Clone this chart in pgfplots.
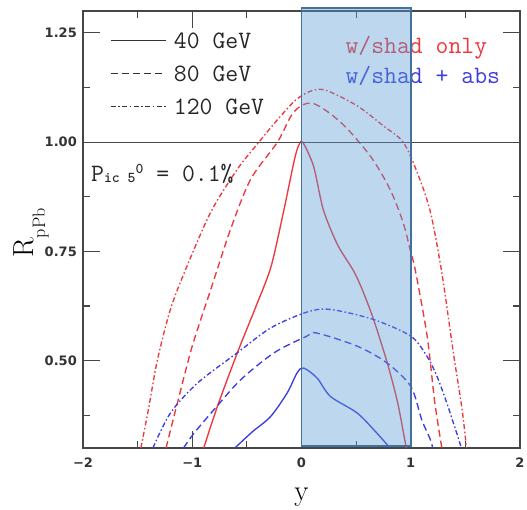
\documentclass[border=0pt]{standalone}
\usepackage{fontspec}
\usepackage{pgfplots}
\pgfplotsset{compat=1.18}
\newfontfamily\tickfont{DejaVu Sans}
\definecolor{rline}{RGB}{238,55,60}
\definecolor{bline}{RGB}{60,60,225}
\definecolor{boxfill}{RGB}{91,155,213}
\definecolor{boxedge}{RGB}{65,113,156}
\definecolor{axgray}{RGB}{70,70,70}
\tikzset{
  dsh/.style={dash pattern=on 7pt off 4pt},
  dshdot/.style={dash pattern=on 5pt off 2.5pt on 1.5pt off 2.5pt},
}
\begin{document}
\begin{tikzpicture}
\begin{axis}[
  scale only axis, width=437pt, height=437pt,
  xmin=-2, xmax=2, ymin=0.3, ymax=1.3,
  xtick={-2,-1,0,1,2}, xticklabels={−2,−1,0,1,2},
  ytick={0.5,0.75,1,1.25}, yticklabels={0.50,0.75,1.00,1.25},
  minor xtick={-1.5,-0.5,0.5,1.5},
  minor ytick={0.375,0.625,0.875,1.125},
  tick align=inside,
  major tick length=17pt, minor tick length=7pt,
  every tick/.style={axgray, line width=1.1pt},
  axis line style={axgray, line width=1.2pt},
  ticklabel style={font=\tickfont\bfseries\fontsize{13}{15}\selectfont, text=black!80},
  xticklabel style={inner sep=0pt, yshift=-10pt, anchor=north},
  yticklabel style={inner sep=0pt, xshift=-6pt, anchor=east},
  clip=false,
]
\coordinate (ll) at (rel axis cs:0,0);
% red: shadowing only
\addplot[rline, line width=1.35pt, smooth, tension=0.45] coordinates {
(-0.895,0.30) (-0.77,0.395) (-0.587,0.518) (-0.42,0.622) (-0.28,0.714) (-0.165,0.84) (-0.07,0.954) (-0.03,0.99) (0.01,1.0) (0.11,0.945) (0.2,0.845) (0.33,0.765) (0.475,0.706) (0.56,0.66) (0.66,0.594) (0.785,0.495) (0.88,0.404) (0.95,0.312) (0.96,0.30)};
\addplot[rline, line width=1.35pt, dsh, smooth, tension=0.5] coordinates {
(-1.24,0.30) (-1.135,0.404) (-1.0,0.533) (-0.83,0.663) (-0.65,0.80) (-0.465,0.915) (-0.22,1.0) (-0.07,1.069) (0.1,1.089) (0.36,1.045) (0.63,0.968) (0.81,0.892) (0.93,0.816) (1.0,0.748) (1.04,0.709) (1.15,0.556) (1.22,0.404) (1.285,0.30)};
\addplot[rline, line width=1.35pt, dshdot, smooth, tension=0.5] coordinates {
(-1.47,0.30) (-1.40,0.39) (-1.32,0.50) (-1.2,0.617) (-1.06,0.709) (-0.83,0.84) (-0.587,0.938) (-0.39,1.0) (-0.19,1.06) (-0.04,1.099) (0.1,1.118) (0.23,1.118) (0.51,1.083) (0.75,1.037) (0.93,1.0) (1.06,0.93) (1.18,0.84) (1.285,0.70) (1.39,0.518) (1.47,0.388) (1.51,0.30)};
% blue: shadowing + absorption
\addplot[bline, line width=1.35pt, smooth, tension=0.5] coordinates {
(-0.61,0.30) (-0.45,0.337) (-0.283,0.372) (-0.131,0.426) (-0.04,0.472) (0.02,0.483) (0.143,0.46) (0.265,0.418) (0.51,0.38) (0.69,0.334) (0.81,0.30)};
\addplot[bline, line width=1.35pt, dsh, smooth, tension=0.5] coordinates {
(-1.08,0.30) (-0.98,0.335) (-0.80,0.388) (-0.557,0.456) (-0.25,0.518) (0.05,0.556) (0.14,0.563) (0.51,0.533) (0.78,0.495) (1.0,0.441) (1.10,0.365) (1.18,0.319) (1.2,0.30)};
\addplot[bline, line width=1.35pt, dshdot, smooth, tension=0.5] coordinates {
(-1.36,0.30) (-1.2,0.38) (-0.95,0.449) (-0.587,0.518) (-0.28,0.575) (0.05,0.611) (0.265,0.617) (0.66,0.594) (1.0,0.556) (1.148,0.51) (1.24,0.464) (1.33,0.403) (1.45,0.311) (1.46,0.30)};
% reference line at 1
\addplot[axgray, line width=1.1pt] coordinates {(-2,1) (2,1)};
% legend samples
\addplot[black!80, line width=1pt] coordinates {(-1.744,1.233) (-1.242,1.233)};
\addplot[black!80, line width=1pt, dsh] coordinates {(-1.744,1.157) (-1.242,1.157)};
\addplot[black!80, line width=1pt, dshdot] coordinates {(-1.744,1.082) (-1.242,1.082)};
\node[anchor=base west, inner sep=0pt, font=\ttfamily\fontsize{25}{30}\selectfont, text=black!85] at (axis cs:-1.169,1.2133) {40 GeV};
\node[anchor=base west, inner sep=0pt, font=\ttfamily\fontsize{25}{30}\selectfont, text=black!85] at (axis cs:-1.169,1.1376) {80 GeV};
\node[anchor=base west, inner sep=0pt, font=\ttfamily\fontsize{25}{30}\selectfont, text=black!85] at (axis cs:-1.169,1.062) {120 GeV};
\node[anchor=base west, inner sep=0pt, font=\ttfamily\fontsize{25}{30}\selectfont, text=black!85] at (axis cs:-1.927,0.9106) {P\raisebox{-1.5pt}{\fontsize{15}{18}\selectfont\bfseries ic 5}\raisebox{8pt}{\fontsize{15}{18}\selectfont\bfseries 0} = 0.1\%};
\node[anchor=base west, inner sep=0pt, font=\ttfamily\fontsize{25}{30}\selectfont, text=rline] at (axis cs:0.402,1.2018) {w/shad only};
\node[anchor=base west, inner sep=0pt, font=\ttfamily\fontsize{25}{30}\selectfont, text=bline] at (axis cs:0.402,1.133) {w/shad + abs};
% shaded rapidity window
\addplot[draw=boxedge, line width=1.8pt, fill=boxfill, fill opacity=0.4, draw opacity=1] coordinates {(0,0.305) (1,0.305) (1,1.307) (0,1.307)} -- cycle;
% axis labels
\node[rotate=90, anchor=base west, inner sep=0pt, font=\fontsize{29}{34}\selectfont] at (rel axis cs:-0.1144,0.4348) {R\raisebox{-12pt}{\fontsize{18}{21}\selectfont pPb}};
\node[anchor=base, inner sep=0pt, font=\fontsize{29}{34}\selectfont] at (rel axis cs:0.5,-0.120) {y};
\end{axis}
\pgfresetboundingbox
\path (ll) ++(-83pt,-62pt) rectangle ++(527pt,510pt);
\end{tikzpicture}
\end{document}
